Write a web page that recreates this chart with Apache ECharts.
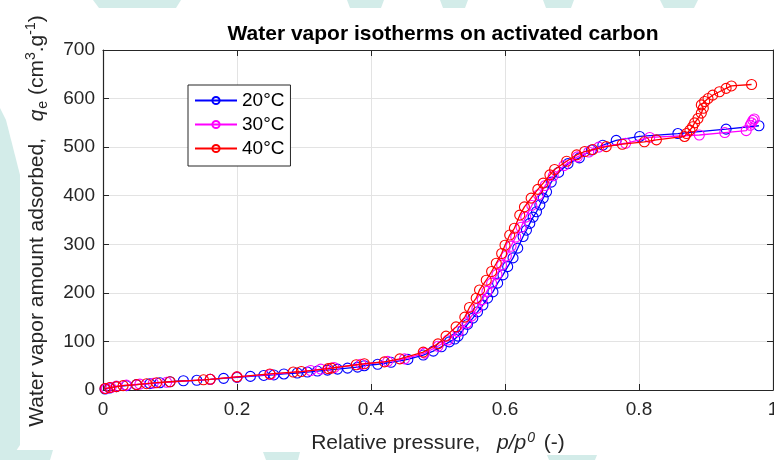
<!DOCTYPE html>
<html>
<head>
<meta charset="utf-8">
<script src="https://cdn.jsdelivr.net/npm/echarts@6/dist/echarts.min.js"></script>
<style>
  html, body { margin: 0; padding: 0; background: #fff; }
  #chart { width: 774px; height: 460px; }
</style>
</head>
<body>
<div id="chart"></div>
<script>
// Water vapor adsorption isotherms: relative pressure p/p0 vs uptake (cm3/g)
const seriesNames = ['20°C', '30°C', '40°C'];

const p20 = [0.003, 0.01, 0.02, 0.035, 0.05, 0.07, 0.085, 0.1, 0.12, 0.14, 0.16, 0.18, 0.2, 0.22, 0.24,
  0.255, 0.27, 0.29, 0.305, 0.32, 0.335, 0.35, 0.365, 0.38, 0.39, 0.41, 0.43, 0.455, 0.478, 0.493,
  0.505, 0.517, 0.525, 0.53, 0.537, 0.544, 0.552, 0.559, 0.567, 0.574, 0.582, 0.589, 0.597, 0.604,
  0.612, 0.619, 0.627, 0.632, 0.637, 0.642, 0.647, 0.652, 0.657, 0.662, 0.669, 0.68, 0.694, 0.711,
  0.729, 0.746, 0.766, 0.801, 0.858, 0.93, 0.979];
const q20 = [2, 4, 7, 9, 11, 13, 15, 17, 19, 20, 22, 24, 26, 28, 30,
  31, 33, 35, 37, 39, 41, 43, 45, 47, 50, 53, 57, 63, 72, 80,
  89, 99, 105, 111, 123, 135, 148, 161, 175, 189, 202, 220, 237, 254,
  272, 292, 316, 329, 343, 356, 367, 381, 395, 408, 428, 448, 466, 478,
  494, 504, 514, 522, 528, 537, 544];

const p30 = [0.005, 0.012, 0.02, 0.035, 0.055, 0.075, 0.095, 0.16, 0.2, 0.25, 0.31, 0.325, 0.345, 0.385,
  0.425, 0.45, 0.48, 0.5, 0.515, 0.53, 0.543, 0.55, 0.558, 0.566, 0.573, 0.58, 0.588, 0.595, 0.602,
  0.609, 0.616, 0.624, 0.631, 0.64, 0.65, 0.66, 0.672, 0.688, 0.708, 0.725, 0.74, 0.78, 0.816,
  0.89, 0.928, 0.96, 0.966, 0.968, 0.97, 0.972];
const q30 = [3, 5, 8, 10, 12, 14, 16, 22, 27, 32, 40, 43, 46, 53,
  59, 64, 76, 90, 103, 120, 138, 152, 168, 186, 203, 220, 238, 257, 276,
  296, 315, 335, 356, 380, 402, 421, 441, 462, 480, 490, 500, 508, 520,
  525, 530, 534, 545, 550, 555, 558];

const p40 = [0.003, 0.01, 0.02, 0.03, 0.05, 0.065, 0.08, 0.1, 0.15, 0.16, 0.2, 0.249, 0.284, 0.296,
  0.336, 0.341, 0.378, 0.39, 0.42, 0.443, 0.478, 0.5, 0.512, 0.527, 0.54, 0.547, 0.557, 0.562,
  0.572, 0.58, 0.587, 0.595, 0.6, 0.607, 0.614, 0.622, 0.629, 0.639, 0.649, 0.657, 0.667, 0.674,
  0.692, 0.707, 0.719, 0.731, 0.751, 0.775, 0.808, 0.826, 0.868, 0.871, 0.876, 0.88, 0.883, 0.888,
  0.893, 0.896, 0.893, 0.898, 0.903, 0.91, 0.92, 0.93, 0.938, 0.968];
const q40 = [3, 5, 7, 9, 11, 13, 15, 17, 21, 22, 27, 33, 37, 38,
  44, 45, 52, 54, 58, 64, 78, 95, 111, 130, 150, 170, 189, 206,
  226, 244, 261, 281, 298, 319, 333, 360, 377, 395, 413, 426, 443, 454,
  471, 484, 491, 495, 501, 506, 511, 515, 522, 528, 535, 542, 550, 559,
  570, 580, 587, 594, 600, 607, 614, 621, 626, 629];

const xTicks = [0, 0.2, 0.4, 0.6, 0.8, 1];
const yTicks = [0, 100, 200, 300, 400, 500, 600, 700];

const colors = ['#0000ff', '#ff00ff', '#ff0000'];
const pSets = [p20, p30, p40];
const qSets = [q20, q30, q40];

const FONT = "'Liberation Sans', Arial, Helvetica, sans-serif";
const INK = '#262626';

const chart = echarts.init(document.getElementById('chart'), null, { renderer: 'canvas' });

// open circle markers joined by thin lines
const series = seriesNames.map((name, i) => ({
  name: name,
  type: 'line',
  xAxisIndex: 0,
  yAxisIndex: 0,
  data: pSets[i].map((p, k) => [p, qSets[i][k]]),
  symbol: 'circle',
  symbolSize: 10,
  showAllSymbol: true,
  color: colors[i],
  lineStyle: { color: colors[i], width: 1.3 },
  itemStyle: { color: 'rgba(0,0,0,0)', borderColor: colors[i], borderWidth: 1.1 },
  emphasis: { disabled: true },
  z: 10 + i
}));

// faint decorative shapes in the page margins
const wm = '#d3ece9';
const shapes = [
  [[93, 0], [181, 0], [176, 8], [99, 8]],
  [[347, 0], [384, 0], [381, 8], [350, 8]],
  [[440, 0], [468, 0], [465, 8], [443, 8]],
  [[543, 0], [574, 0], [571, 8], [546, 8]],
  [[660, 0], [698, 0], [694, 8], [664, 8]],
  [[0, 108], [6, 120], [20, 175], [20, 445], [10, 460], [0, 460]],
  [[0, 450], [53, 450], [50, 460], [0, 460]],
  [[263, 452], [300, 452], [298, 460], [266, 460]],
  [[547, 455], [597, 455], [595, 460], [549, 460]]
].map(pts => ({
  type: 'polygon',
  shape: { points: pts },
  style: { fill: wm },
  silent: true,
  z: -10
}));

chart.setOption({
  animation: false,
  backgroundColor: '#ffffff',
  title: {
    text: 'Water vapor isotherms on activated carbon',
    left: 438,
    textAlign: 'center',
    top: 19,
    textStyle: { fontFamily: FONT, fontSize: 21, fontWeight: 'bold', color: '#000' }
  },
  legend: {
    data: seriesNames,
    orient: 'vertical',
    left: 188,
    top: 85,
    padding: [6, 6, 8, 6],
    itemWidth: 42,
    itemHeight: 9,
    itemGap: 5,
    backgroundColor: '#ffffff',
    borderColor: INK,
    borderWidth: 1,
    borderRadius: 0,
    textStyle: { fontFamily: FONT, fontSize: 19, color: '#000' },
    z: 20
  },
  grid: {
    left: 103,
    right: 1,
    top: 50,
    bottom: 70,
    outerBoundsMode: 'none',
    containLabel: false,
    show: true,
    backgroundColor: '#ffffff',
    borderWidth: 0,
    z: 0
  },
  xAxis: [{
    type: 'value',
    min: 0, max: 1, interval: 0.2,
    position: 'bottom',
    axisLine: { show: true, onZero: false, lineStyle: { color: INK, width: 1.2 } },
    axisTick: { show: true, inside: true, length: 6, lineStyle: { color: INK } },
    axisLabel: {
      fontFamily: FONT, fontSize: 19, color: INK, margin: 10,
      formatter: v => String(xTicks.find(t => Math.abs(t - v) < 1e-9) ?? v)
    },
    splitLine: { show: true, lineStyle: { color: '#e3e3e3', width: 1 } }
  }, {
    type: 'value',
    min: 0, max: 1, interval: 0.2,
    position: 'top',
    axisLine: { show: true, onZero: false, lineStyle: { color: INK, width: 1.2 } },
    axisTick: { show: true, inside: true, length: 6, lineStyle: { color: INK } },
    axisLabel: { show: false },
    splitLine: { show: false }
  }],
  yAxis: [{
    type: 'value',
    min: 0, max: 700, interval: 100,
    position: 'left',
    axisLine: { show: true, onZero: false, lineStyle: { color: INK, width: 1.2 } },
    axisTick: { show: true, inside: true, length: 6, lineStyle: { color: INK } },
    axisLabel: {
      fontFamily: FONT, fontSize: 19, color: INK, margin: 8,
      formatter: v => String(yTicks.find(t => Math.abs(t - v) < 1e-9) ?? v)
    },
    splitLine: { show: true, lineStyle: { color: '#e3e3e3', width: 1 } }
  }, {
    type: 'value',
    min: 0, max: 700, interval: 100,
    position: 'right',
    axisLine: { show: true, onZero: false, lineStyle: { color: INK, width: 1.2 } },
    axisTick: { show: true, inside: true, length: 6, lineStyle: { color: INK } },
    axisLabel: { show: false },
    splitLine: { show: false }
  }],
  graphic: shapes.concat([
    {
      type: 'text',
      x: 37,
      y: 221,
      rotation: Math.PI / 2,
      z: 5,
      style: {
        text: 'Water vapor amount adsorbed,  {i|q}{sub|e} (cm{sup|3}.g{sup|-1})',
        fontFamily: FONT,
        fontSize: 21,
        fill: INK,
        align: 'center',
        verticalAlign: 'middle',
        rich: {
          i: { fontFamily: FONT, fontSize: 21, fontStyle: 'italic', fill: INK, padding: [0, 1, 0, 5] },
          sub: { fontFamily: FONT, fontSize: 14, fill: INK, verticalAlign: 'bottom', padding: [12, 0, 0, 0] },
          sup: { fontFamily: FONT, fontSize: 14, fill: INK, verticalAlign: 'top', padding: [0, 0, 10, 0] }
        }
      }
    },
    {
      type: 'text',
      x: 438,
      y: 443,
      z: 5,
      style: {
        text: 'Relative pressure,  {i|p/p}{sup|0} (-)',
        fontFamily: FONT,
        fontSize: 21,
        fill: INK,
        align: 'center',
        verticalAlign: 'middle',
        rich: {
          i: { fontFamily: FONT, fontSize: 21, fontStyle: 'italic', fill: INK, padding: [0, 0, 0, 5] },
          sup: { fontFamily: FONT, fontSize: 14, fontStyle: 'italic', fill: INK, verticalAlign: 'top', padding: [0, 3, 10, 1] }
        }
      }
    }
  ]),
  series: series
});
</script>
</body>
</html>
